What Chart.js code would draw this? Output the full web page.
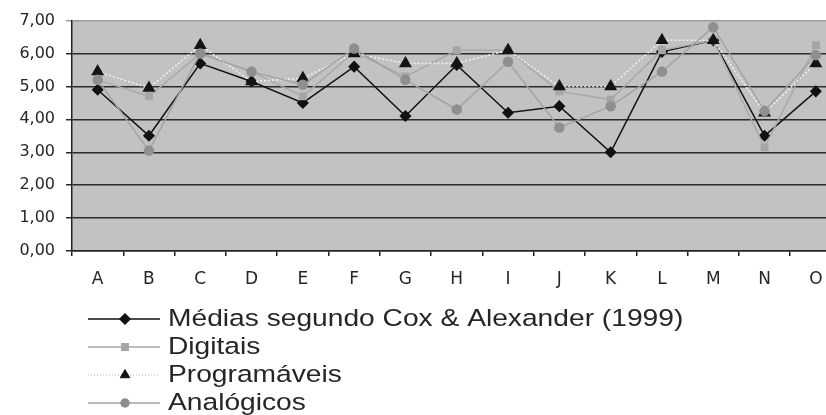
<!DOCTYPE html>
<html lang="pt">
<head>
<meta charset="utf-8">
<title>Médias por tipo de calculadora</title>
<script src="https://cdn.jsdelivr.net/npm/chart.js@4.4.1/dist/chart.umd.min.js"></script>
<style>
  html, body { margin: 0; padding: 0; background: #fff; overflow: hidden; }
  #wrap { width: 850px; height: 415px; }
</style>
</head>
<body>
<div id="wrap"><canvas id="chart" width="850" height="415"></canvas></div>
<script>
// Categories along the horizontal axis
const categories = ['A', 'B', 'C', 'D', 'E', 'F', 'G', 'H', 'I', 'J', 'K', 'L', 'M', 'N', 'O'];

// Series values (scale 0–7)
const medias       = [4.90, 3.50, 5.70, 5.15, 4.50, 5.60, 4.10, 5.65, 4.20, 4.40, 3.00, 6.05, 6.40, 3.50, 4.85];
const digitais     = [5.20, 4.70, 6.00, 5.45, 4.70, 6.05, 5.30, 6.10, 6.10, 4.85, 4.60, 6.10, 6.40, 3.15, 6.25];
const programaveis = [5.45, 4.95, 6.25, 5.15, 5.25, 6.00, 5.70, 5.70, 6.10, 5.00, 5.00, 6.40, 6.40, 4.20, 5.70];
const analogicos   = [5.20, 3.05, 6.00, 5.45, 5.05, 6.15, 5.20, 4.30, 5.75, 3.75, 4.40, 5.45, 6.80, 4.25, 5.95];

// Series names
const seriesNames = [
  'Médias segundo Cox & Alexander (1999)',
  'Digitais',
  'Programáveis',
  'Analógicos'
];

// Value-axis ticks
const yTicks = [0, 1, 2, 3, 4, 5, 6, 7];

const TEXT = '#262626';
const TICK_FONT = "'DejaVu Sans', 'Liberation Sans', sans-serif";
const LEGEND_FONT = "'Liberation Sans', Arial, sans-serif";

// Grey plot background
const plotBackground = {
  id: 'plotBackground',
  beforeDraw(chart) {
    const { ctx, chartArea: a } = chart;
    ctx.save();
    ctx.fillStyle = '#c2c2c2';
    ctx.fillRect(a.left, a.top, a.right - a.left, a.bottom - a.top);
    ctx.restore();
  }
};

// Stacked legend below the axis (text slightly widened)
const stackedLegend = {
  id: 'stackedLegend',
  afterDraw(chart) {
    const { ctx } = chart;
    const x0 = 88, x1 = 160, xm = 125, xt = 168, y0 = 319, dy = 28;
    chart.data.datasets.forEach((ds, i) => {
      const y = y0 + dy * i;
      ctx.save();
      ctx.strokeStyle = ds.legendLine;
      ctx.lineWidth = ds.legendDash ? 1 : 1.5;
      ctx.setLineDash(ds.legendDash || []);
      ctx.beginPath();
      ctx.moveTo(x0, y);
      ctx.lineTo(x1, y);
      ctx.stroke();
      ctx.setLineDash([]);
      ctx.fillStyle = ds.pointBackgroundColor;
      ctx.strokeStyle = ds.pointBorderColor;
      Chart.helpers.drawPoint(ctx, {
        pointStyle: ds.pointStyle,
        radius: ds.legendRadius,
        rotation: 0,
        borderWidth: 1
      }, xm, y);
      ctx.translate(xt, y + 7);
      ctx.scale(1.15, 1);
      ctx.fillStyle = TEXT;
      ctx.font = '24.5px ' + LEGEND_FONT;
      ctx.textBaseline = 'alphabetic';
      ctx.textAlign = 'left';
      ctx.fillText(ds.label, 0, 0);
      ctx.restore();
    });
  }
};

new Chart(document.getElementById('chart'), {
  type: 'line',
  data: {
    labels: categories,
    datasets: [
      {
        label: seriesNames[0],
        data: medias,
        borderColor: '#111',
        borderWidth: 1.5,
        pointStyle: 'rectRot',
        pointRadius: 5,
        pointBackgroundColor: '#111',
        pointBorderColor: '#111',
        legendLine: '#111',
        legendRadius: 5,
        order: 4
      },
      {
        label: seriesNames[1],
        data: digitais,
        borderColor: '#a9a9a9',
        borderWidth: 1.5,
        pointStyle: 'rect',
        pointRadius: 4.5,
        pointBackgroundColor: '#a6a6a6',
        pointBorderColor: '#a6a6a6',
        legendLine: '#a9a9a9',
        legendRadius: 4.5,
        order: 3
      },
      {
        label: seriesNames[2],
        data: programaveis,
        borderColor: '#f2f2f2',
        borderWidth: 1.5,
        borderDash: [2, 2],
        pointStyle: 'triangle',
        pointRadius: 6,
        pointBackgroundColor: '#141414',
        pointBorderColor: '#141414',
        legendLine: '#b0b0b0',
        legendDash: [1, 2],
        legendRadius: 5.5,
        order: 2
      },
      {
        label: seriesNames[3],
        data: analogicos,
        borderColor: '#a3a3a3',
        borderWidth: 1.5,
        pointStyle: 'circle',
        pointRadius: 4.5,
        pointBackgroundColor: '#8f8f8f',
        pointBorderColor: '#8f8f8f',
        legendLine: '#a3a3a3',
        legendRadius: 4,
        order: 1
      }
    ]
  },
  options: {
    responsive: false,
    animation: false,
    layout: { padding: { top: 19, right: 8.5, bottom: 0, left: 0 } },
    plugins: {
      legend: { display: false },
      tooltip: { enabled: false }
    },
    elements: { line: { tension: 0 } },
    scales: {
      x: {
        offset: true,
        afterFit(scale) { scale.height = 164; },
        border: { display: true, color: '#222', width: 1.5 },
        grid: {
          offset: true,
          drawOnChartArea: false,
          drawTicks: true,
          tickLength: 5,
          color: '#222',
          lineWidth: 1.5
        },
        ticks: {
          color: TEXT,
          font: { family: TICK_FONT, size: 17 },
          padding: 13,
          maxRotation: 0,
          autoSkip: false
        }
      },
      y: {
        min: yTicks[0],
        max: yTicks[yTicks.length - 1],
        afterFit(scale) { scale.width = 72; },
        afterBuildTicks(scale) { scale.ticks = yTicks.map(v => ({ value: v })); },
        border: { display: true, color: '#222', width: 1.5 },
        grid: {
          drawTicks: true,
          tickLength: 6,
          lineWidth: 1.5,
          color: ctx => (ctx.tick && ctx.tick.value === 7 ? '#9d9d9d' : '#2b2b2b')
        },
        ticks: {
          color: TEXT,
          font: { family: TICK_FONT, size: 16 },
          padding: 11,
          callback: v => Number(v).toFixed(2).replace('.', ',')
        }
      }
    }
  },
  plugins: [plotBackground, stackedLegend]
});
</script>
</body>
</html>
